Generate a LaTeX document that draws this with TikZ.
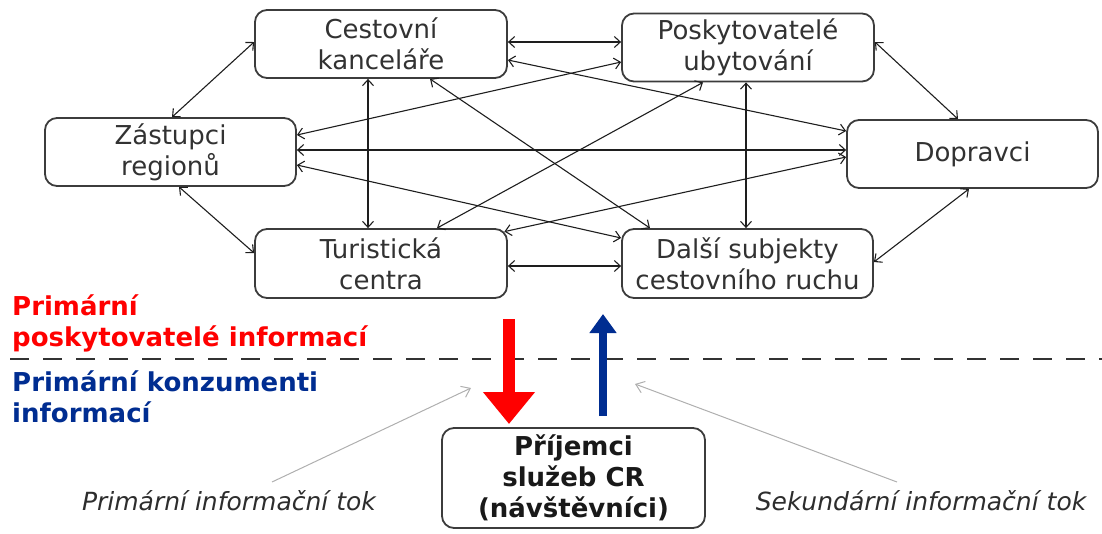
\documentclass[tikz,border=0pt]{standalone}
\usepackage{fontspec}
\setmainfont{DejaVu Sans}
\usetikzlibrary{arrows.meta,calc}
\definecolor{boxline}{RGB}{60,60,60}
\definecolor{boxtext}{RGB}{50,50,50}
\definecolor{conn}{RGB}{30,30,30}
\definecolor{navy}{RGB}{0,45,145}
\definecolor{lightarrow}{RGB}{175,175,175}
\definecolor{dashcol}{RGB}{50,50,50}
\definecolor{labtext}{RGB}{45,45,45}
\begin{document}
\begin{tikzpicture}[x=1pt,y=-1pt,
  entity/.style={draw=boxline, line width=1.8pt, rounded corners=12pt, inner sep=0pt,
    align=center, text=boxtext, font=\fontsize{26}{31}\selectfont,
    minimum width=252pt, minimum height=68pt},
  link/.style={draw=conn, line width=1.1pt,
    {Straight Barb[length=6pt,width=11pt]}-{Straight Barb[length=6pt,width=11pt]}},
  hint/.style={draw=lightarrow, line width=1pt, -{Straight Barb[length=8pt,width=12pt]}},
  caption/.style={anchor=base, inner sep=0pt, text=labtext,
    font=\itshape\fontsize{25}{30}\selectfont},
  sidehead/.style={anchor=west, align=left, inner sep=0pt,
    font=\bfseries\fontsize{26}{31}\selectfont}]
\useasboundingbox (0,0) rectangle (1102,533);

% entities
\node[entity] (ck) at (381,44) {Cestovní\\kanceláře};
\node[entity] (pu) at (748,47.5) {Poskytovatelé\\ubytování};
\node[entity, minimum width=251pt] (zr) at (170.5,152) {Zástupci\\regionů};
\node[entity, minimum width=251pt] (dop) at (972.5,154) {Dopravci};
\node[entity, minimum height=69pt] (tc) at (381,263.5) {Turistická\\centra};
\node[entity, minimum width=251pt, minimum height=69pt] (ds) at (747.5,263.5) {Další subjekty\\cestovního ruchu};

% links (complete graph)
\draw[link] ([yshift=2pt]ck.east) -- ([yshift=5.5pt]pu.west);
\draw[link] ([xshift=1.5pt]zr.north) -- ([yshift=2pt]ck.west);
\draw[link] ([xshift=-13pt]ck.south) -- ([xshift=-13pt]tc.north);
\draw[link] ([xshift=49pt]ck.south) -- ([xshift=-97.5pt]ds.north);
\draw[link] ([yshift=-16pt]ck.east) -- ([yshift=23pt]dop.west);
\draw[link] ([yshift=-14.5pt]pu.west) -- ([yshift=17pt]zr.east);
\draw[link] ([xshift=-45pt]pu.south) -- ([xshift=56pt]tc.north);
\draw[link] ([xshift=-2pt]pu.south) -- ([xshift=-1.5pt]ds.north);
\draw[link] ([yshift=5.5pt]pu.east) -- ([xshift=-14.5pt]dop.north);
\draw[link] ([yshift=2pt]zr.east) -- ([yshift=4pt]dop.west);
\draw[link] ([xshift=8.5pt]zr.south) -- ([yshift=10.5pt]tc.west);
\draw[link] ([yshift=-13pt]zr.east) -- ([yshift=25.5pt]ds.west);
\draw[link] ([yshift=-2.5pt]tc.east) -- ([yshift=-2.5pt]ds.west);
\draw[link] ([xshift=-3.5pt,yshift=-3.5pt]tc.north east) -- ([yshift=-3pt]dop.west);
\draw[link] ([yshift=1.5pt]ds.east) -- ([xshift=-3.5pt]dop.south);

% dividing line
\coordinate (dl) at (10,359);
\coordinate (dr) at (1102,359);
\draw[dashcol, line width=2pt, dash pattern=on 19pt off 14pt] (dl) -- (dr);

% side headings
\node[sidehead, text=red] (prov) at (12,323) {Primární\\poskytovatelé informací};
\node[sidehead, text=navy] (cons) at (12,397) {Primární konzumenti\\informací};

% recipients
\node[entity, minimum width=263pt, minimum height=100pt, text=black!90,
  font=\bfseries\fontsize{26}{31}\selectfont] (rec) at (573.5,478) {Příjemci\\služeb CR\\(návštěvníci)};

% main flows
\coordinate (redtop) at (509,319);
\coordinate (redtip) at (509,424);
\draw[red, line width=12pt, -{Triangle[length=32pt,width=50pt]}] (redtop) -- (redtip);
\coordinate (bluebot) at (603,416);
\coordinate (bluetip) at (603,314);
\draw[navy, line width=8pt, -{Triangle[length=19pt,width=26pt]}] (bluebot) -- (bluetip);

% captions and pointers
\node[caption] (plab) at (229,510) {Primární informační tok};
\node[caption] (slab) at (921,510) {Sekundární informační tok};
\coordinate (ptip) at (471,388);
\coordinate (stip) at (635,384);
\draw[hint] ([shift={(43,-28)}]plab.base) -- (ptip);
\draw[hint] ([shift={(-24,-28)}]slab.base) -- (stip);
\end{tikzpicture}
\end{document}
